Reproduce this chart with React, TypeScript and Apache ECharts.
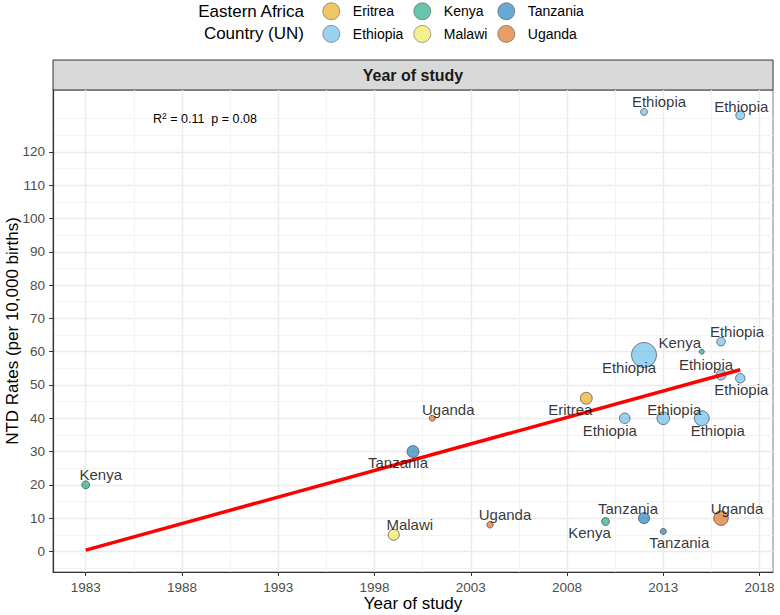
import React, { useEffect, useRef } from "react";
import * as echarts from "echarts";

// ---------- data ----------
const countries = [
  "Kenya", "Tanzania", "Malawi", "Uganda", "Uganda", "Eritrea", "Ethiopia", "Kenya", "Tanzania", "Tanzania",
  "Ethiopia", "Ethiopia", "Uganda", "Ethiopia", "Ethiopia", "Ethiopia", "Kenya", "Ethiopia", "Ethiopia", "Ethiopia",
];
const years = [1983, 2000, 1999, 2001, 2004, 2009, 2011, 2010, 2012, 2013, 2013, 2015, 2016, 2017, 2016, 2016, 2015, 2012, 2012, 2017];
const rates = [20, 30, 5, 40, 8, 46, 40, 9, 10, 6, 40, 40, 10, 52, 53, 63, 60, 59, 132, 131];
// relative study size (bubble area)
const weights = [12, 27, 23, 7, 8, 27, 21, 12, 23, 7, 30, 42, 40, 17, 19, 14, 5, 118, 9, 15];

const legendCountries = ["Eritrea", "Ethiopia", "Kenya", "Malawi", "Tanzania", "Uganda"];
const xTicks = [1983, 1988, 1993, 1998, 2003, 2008, 2013, 2018];
const yTicks = [0, 10, 20, 30, 40, 50, 60, 70, 80, 90, 100, 110, 120];
const xMinor = [1985.5, 1990.5, 1995.5, 2000.5, 2005.5, 2010.5, 2015.5];
const yMinor = [-5, 5, 15, 25, 35, 45, 55, 65, 75, 85, 95, 105, 115, 125, 130];
const statText = { r2: "0.11", p: "0.08" };

// ---------- layout / style ----------
const labelOffsets = [
  [15, -10], [-15, 11], [16, -10], [16, -9], [15, -10], [-16, 11], [-15, 12], [-16, 11], [-16, -10], [16, 11],
  [11, -9], [16, 12], [16, -10], [1, 11], [-15, -10], [16, -10], [-22, -9], [-15, 13], [15, -10], [1, -9],
];
const countryColors: Record<string, string> = {
  Eritrea: "rgba(230,159,0,0.75)",
  Ethiopia: "rgba(86,180,233,0.75)",
  Kenya: "rgba(0,158,115,0.75)",
  Malawi: "rgba(240,228,66,0.75)",
  Tanzania: "rgba(0,114,178,0.75)",
  Uganda: "rgba(213,94,0,0.75)",
};
const FONT = "'Liberation Sans', Arial, Helvetica, sans-serif";

const GRID = { left: 53, top: 90, width: 720, height: 482 };

export default function App() {
  const ref = useRef<HTMLDivElement>(null);

  useEffect(() => {
    document.body.style.margin = "0";
    if (!ref.current) return;
    const chart = echarts.init(ref.current, undefined, { renderer: "svg" });

    // OLS regression
    const n = years.length;
    const mx = years.reduce((a, b) => a + b, 0) / n;
    const my = rates.reduce((a, b) => a + b, 0) / n;
    let sxy = 0, sxx = 0;
    for (let i = 0; i < n; i++) {
      sxy += (years[i] - mx) * (rates[i] - my);
      sxx += (years[i] - mx) ** 2;
    }
    const slope = sxy / sxx;
    const icpt = my - slope * mx;
    const x0 = Math.min(...years), x1 = Math.max(...years);
    const lineData = [[x0, icpt + slope * x0], [x1, icpt + slope * x1]];

    const yLo = Math.min(...rates, lineData[0][1], lineData[1][1]);
    const yHi = Math.max(...rates, lineData[0][1], lineData[1][1]);
    const xMin = x0 - 0.05 * (x1 - x0), xMax = x1 + 0.05 * (x1 - x0);
    const yMin = yLo - 0.05 * (yHi - yLo), yMax = yHi + 0.05 * (yHi - yLo);

    const sizeOf = (w: number) => 2.3 * Math.sqrt(w);

    const pointSeries = legendCountries.map((c) => ({
      type: "scatter",
      name: c,
      z: 2,
      xAxisIndex: 0,
      yAxisIndex: 0,
      symbol: "circle",
      symbolSize: (v: number[]) => sizeOf(v[2]),
      itemStyle: { color: countryColors[c], borderColor: "#3a3a3a", borderWidth: 0.8 },
      data: years
        .map((y, i) => ({ i, y }))
        .filter((d) => countries[d.i] === c)
        .map((d) => [years[d.i], rates[d.i], weights[d.i]]),
      emphasis: { disabled: true },
    }));

    const labelSeries = {
      type: "scatter",
      name: "labels",
      z: 4,
      silent: true,
      xAxisIndex: 0,
      yAxisIndex: 0,
      symbolSize: 1,
      itemStyle: { color: "rgba(0,0,0,0)" },
      label: {
        show: true,
        position: "inside",
        formatter: "{b}",
        fontSize: 15,
        color: "#000",
        fontFamily: FONT,
        align: "center",
        verticalAlign: "middle",
      },
      data: years.map((y, i) => ({
        name: countries[i],
        value: [y, rates[i]],
        label: { offset: labelOffsets[i] },
      })),
    };

    const legendBase = {
      orient: "vertical",
      top: 2.5,
      padding: 0,
      itemWidth: 17,
      itemHeight: 17,
      itemGap: 5,
      icon: "circle",
      selectedMode: false,
      itemStyle: { borderWidth: 0.6, borderColor: "#3a3a3a" },
      textStyle: { fontSize: 14, color: "#000", fontFamily: FONT, padding: [0, 0, 0, 8] },
    };

    const fmt = (v: number) => String(v);

    chart.setOption({
      animation: false,
      textStyle: { fontFamily: FONT },
      grid: {
        ...GRID,
        show: true,
        borderColor: "#7f7f7f",
        borderWidth: 1,
        backgroundColor: "#fff",
        containLabel: false,
        outerBoundsMode: "none",
      },
      legend: [
        { ...legendBase, left: 322.5, data: ["Eritrea", "Ethiopia"] },
        { ...legendBase, left: 413.5, data: ["Kenya", "Malawi"] },
        { ...legendBase, left: 497.5, data: ["Tanzania", "Uganda"] },
      ],
      xAxis: [
        {
          type: "value",
          gridIndex: 0,
          min: xMin,
          max: xMax,
          axisLine: { show: true, onZero: false, lineStyle: { color: "#333", width: 1.2 } },
          axisTick: { show: true, length: 4, customValues: xTicks, lineStyle: { color: "#333" } },
          axisLabel: { customValues: xTicks, formatter: fmt, color: "#4D4D4D", fontSize: 13.5, margin: 8, fontFamily: FONT },
          splitLine: { show: true, lineStyle: { color: "#EBEBEB", width: 1.4 } },
        },
        {
          type: "value",
          gridIndex: 0,
          min: xMin,
          max: xMax,
          position: "top",
          axisLine: { show: false },
          axisTick: { show: false, customValues: xMinor },
          axisLabel: { show: false, customValues: xMinor },
          splitLine: { show: true, lineStyle: { color: "#F3F3F3", width: 1 } },
        },
      ],
      yAxis: [
        {
          type: "value",
          gridIndex: 0,
          min: yMin,
          max: yMax,
          axisLine: { show: true, onZero: false, lineStyle: { color: "#333", width: 1.2 } },
          axisTick: { show: true, length: 4, customValues: yTicks, lineStyle: { color: "#333" } },
          axisLabel: { customValues: yTicks, formatter: fmt, color: "#4D4D4D", fontSize: 13.5, margin: 8, fontFamily: FONT },
          splitLine: { show: true, lineStyle: { color: "#EBEBEB", width: 1.4 } },
        },
        {
          type: "value",
          gridIndex: 0,
          min: yMin,
          max: yMax,
          position: "right",
          axisLine: { show: false },
          axisTick: { show: false, customValues: yMinor },
          axisLabel: { show: false, customValues: yMinor },
          splitLine: { show: true, lineStyle: { color: "#F3F3F3", width: 1 } },
        },
      ],
      graphic: [
        {
          type: "text",
          x: 304,
          y: 0,
          style: {
            text: "Eastern Africa\nCountry (UN)",
            align: "right",
            verticalAlign: "top",
            fontSize: 17,
            lineHeight: 22,
            fill: "#000",
            fontFamily: FONT,
          },
        },
        {
          type: "rect",
          shape: { x: GRID.left, y: 60, width: GRID.width, height: GRID.top - 60 },
          style: { fill: "#D9D9D9", stroke: "#333", lineWidth: 1 },
        },
        {
          type: "text",
          x: GRID.left + GRID.width / 2,
          y: 75,
          style: {
            text: "Year of study",
            align: "center",
            verticalAlign: "middle",
            fontSize: 16,
            fontWeight: "bold",
            fill: "#1A1A1A",
            fontFamily: FONT,
          },
        },
        {
          type: "text",
          x: GRID.left + GRID.width / 2,
          y: 603,
          style: {
            text: "Year of study",
            align: "center",
            verticalAlign: "middle",
            fontSize: 17,
            fill: "#000",
            fontFamily: FONT,
          },
        },
        {
          type: "text",
          x: 12,
          y: GRID.top + GRID.height / 2,
          rotation: Math.PI / 2,
          style: {
            text: "NTD Rates (per 10,000 births)",
            align: "center",
            verticalAlign: "middle",
            fontSize: 17,
            fill: "#000",
            fontFamily: FONT,
          },
        },
        {
          type: "text",
          x: 153,
          y: 119,
          z: 10,
          style: {
            text: `{r|R}{s|2}{r| = ${statText.r2}  p = ${statText.p}}`,
            verticalAlign: "middle",
            fontFamily: FONT,
            rich: {
              r: { fontSize: 12.5, fill: "#000", fontFamily: FONT },
              s: { fontSize: 8.5, fill: "#000", fontFamily: FONT, padding: [0, 0, 7, 0] },
            },
          },
        },
      ],
      series: [
        ...pointSeries,
        {
          type: "line",
          name: "fit",
          z: 3,
          silent: true,
          xAxisIndex: 0,
          yAxisIndex: 0,
          symbol: "none",
          lineStyle: { color: "#FF0000", width: 3.5 },
          data: lineData,
        },
        labelSeries,
      ],
    });

    return () => chart.dispose();
  }, []);

  return <div ref={ref} style={{ width: 780, height: 615 }} />;
}
